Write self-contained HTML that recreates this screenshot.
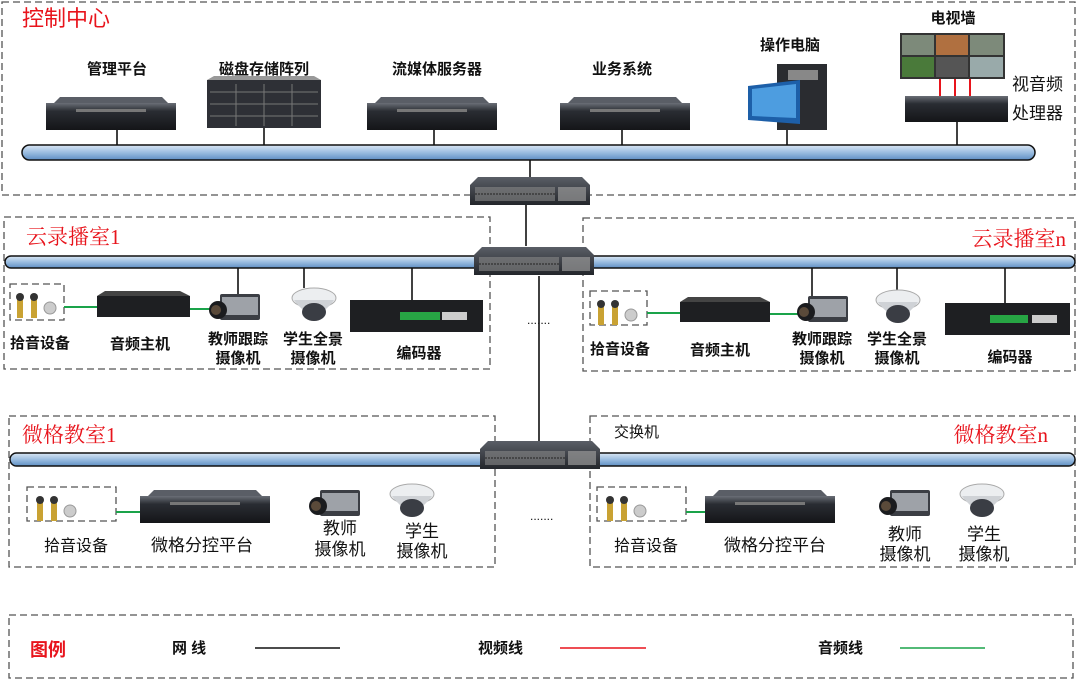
<!DOCTYPE html>
<html><head><meta charset="utf-8"><style>
html,body{margin:0;padding:0;background:#fff;}
svg{display:block;font-family:"Liberation Sans","Noto Sans CJK SC",sans-serif;}
.t{font-size:15px;font-weight:bold;fill:#111;}
.r{font-size:21px;fill:#e8141c;}
.d{fill:none;stroke:#555;stroke-width:1.3;stroke-dasharray:7 4;}
.ln{stroke:#111;stroke-width:1.6;}
</style></head><body>
<svg width="1078" height="681" viewBox="0 0 1078 681">
<defs>
<linearGradient id="pipe" x1="0" y1="0" x2="0" y2="1"><stop offset="0" stop-color="#dbe7f4"/><stop offset="0.5" stop-color="#9bbde0"/><stop offset="1" stop-color="#5f8fc4"/></linearGradient>
<linearGradient id="srv" x1="0" y1="0" x2="0" y2="1"><stop offset="0" stop-color="#6a6e76"/><stop offset="0.3" stop-color="#2a2d33"/><stop offset="1" stop-color="#141518"/></linearGradient>
<linearGradient id="sw" x1="0" y1="0" x2="0" y2="1"><stop offset="0" stop-color="#5a5e66"/><stop offset="1" stop-color="#23262b"/></linearGradient>
<g id="server"><rect x="0" y="6" width="130" height="27" fill="url(#srv)"/><polygon points="8,6 122,6 116,0 14,0" fill="#5a5e66"/><rect x="30" y="12" width="70" height="3" fill="#777"/></g>
<g id="switch"><polygon points="0,8 8,0 112,0 120,8 120,28 0,28" fill="url(#sw)"/><rect x="5" y="10" width="80" height="14" fill="#888" opacity=".6"/><line x1="5" y1="17" x2="85" y2="17" stroke="#222" stroke-width="1" stroke-dasharray="2 1"/><rect x="88" y="10" width="28" height="14" fill="#999" opacity=".7"/></g>
<g id="cam"><rect x="10" y="0" width="40" height="26" rx="2" fill="#3b3e44"/><rect x="12" y="3" width="36" height="18" fill="#9ea2a8"/><circle cx="8" cy="16" r="9" fill="#1b1c1f"/><circle cx="6" cy="16" r="5" fill="#5a4a3a"/></g>
<g id="dome"><ellipse cx="22" cy="10" rx="22" ry="10" fill="#eceef0" stroke="#aaa"/><path d="M2 12 Q22 40 42 12Z" fill="#cfd2d6"/><ellipse cx="22" cy="24" rx="12" ry="9" fill="#3a3d44"/></g>
<g id="mics"><rect x="0" y="6" width="6" height="20" fill="#c9a233"/><circle cx="3" cy="5" r="4" fill="#333"/><rect x="14" y="6" width="6" height="20" fill="#c9a233"/><circle cx="17" cy="5" r="4" fill="#333"/><circle cx="33" cy="16" r="6" fill="#ccc" stroke="#999"/></g>
</defs>

<!-- dashed boxes -->
<rect class="d" x="2" y="2" width="1073" height="193"/>
<rect class="d" x="4" y="217" width="486" height="152"/>
<rect class="d" x="583" y="218" width="492" height="153"/>
<rect class="d" x="9" y="416" width="486" height="151"/>
<rect class="d" x="590" y="416" width="485" height="151"/>
<rect class="d" x="9" y="615" width="1064" height="63"/>

<!-- titles -->
<text class="r" x="22" y="26" style="font-size:22px">控制中心</text>
<text class="r" x="26" y="244" style="font-family:'Liberation Serif','Noto Serif CJK SC',serif">云录播室1</text>
<text class="r" x="1066" y="246" text-anchor="end" style="font-family:'Liberation Serif','Noto Serif CJK SC',serif">云录播室n</text>
<text class="r" x="22" y="442" style="font-family:'Liberation Serif','Noto Serif CJK SC',serif">微格教室1</text>
<text class="r" x="1048" y="442" text-anchor="end" style="font-family:'Liberation Serif','Noto Serif CJK SC',serif">微格教室n</text>

<!-- control center -->
<g class="ln"><line x1="117" y1="130" x2="117" y2="146"/><line x1="264" y1="128" x2="264" y2="146"/><line x1="434" y1="130" x2="434" y2="146"/><line x1="622" y1="130" x2="622" y2="146"/><line x1="787" y1="128" x2="787" y2="146"/><line x1="957" y1="122" x2="957" y2="146"/>
<line x1="530" y1="160" x2="530" y2="178"/><line x1="526" y1="205" x2="526" y2="246"/><line x1="539" y1="276" x2="539" y2="441"/></g>
<rect x="22" y="145" width="1013" height="15" rx="7.5" fill="url(#pipe)" stroke="#111" stroke-width="1.5"/>
<text class="t" x="117" y="74" text-anchor="middle">管理平台</text>
<text class="t" x="264" y="74" text-anchor="middle">磁盘存储阵列</text>
<text class="t" x="437" y="74" text-anchor="middle">流媒体服务器</text>
<text class="t" x="622" y="74" text-anchor="middle">业务系统</text>
<text class="t" x="790" y="50" text-anchor="middle">操作电脑</text>
<text class="t" x="953" y="23" text-anchor="middle">电视墙</text>
<text x="1012" y="90" style="font-size:17px" fill="#111">视音频</text>
<text x="1012" y="119" style="font-size:17px" fill="#111">处理器</text>
<use href="#server" x="46" y="97"/>
<rect x="207" y="80" width="114" height="48" fill="#2e3036"/><polygon points="207,80 321,80 314,76 214,76" fill="#999"/>
<g stroke="#777" stroke-width="1"><line x1="210" y1="92" x2="318" y2="92"/><line x1="210" y1="104" x2="318" y2="104"/><line x1="210" y1="116" x2="318" y2="116"/><line x1="236" y1="84" x2="236" y2="126"/><line x1="264" y1="84" x2="264" y2="126"/><line x1="292" y1="84" x2="292" y2="126"/></g>
<use href="#server" x="367" y="97"/>
<use href="#server" x="560" y="97"/>
<rect x="777" y="64" width="50" height="66" fill="#2a2c30"/><rect x="788" y="70" width="30" height="10" fill="#888"/>
<polygon points="748,86 800,80 800,124 748,120" fill="#1d5fa8"/><polygon points="752,89 796,84 796,118 752,116" fill="#4d9de0"/>
<rect x="900" y="33" width="105" height="46" fill="#333"/>
<g fill="#7d8a7a"><rect x="902" y="35" width="32" height="20"/><rect x="936" y="35" width="32" height="20" fill="#b07040"/><rect x="970" y="35" width="33" height="20"/><rect x="902" y="57" width="32" height="20" fill="#4a7a3a"/><rect x="936" y="57" width="32" height="20" fill="#555"/><rect x="970" y="57" width="33" height="20" fill="#9aa"/></g>
<g stroke="#e8141c" stroke-width="2"><line x1="940" y1="79" x2="940" y2="96"/><line x1="955" y1="79" x2="955" y2="96"/><line x1="970" y1="79" x2="970" y2="96"/></g>
<rect x="905" y="96" width="103" height="26" fill="url(#srv)"/>

<!-- cloud buses -->
<rect x="5" y="256" width="1070" height="12" rx="6" fill="url(#pipe)" stroke="#111" stroke-width="1.5"/>
<use href="#switch" x="470" y="177"/>
<use href="#switch" x="474" y="247"/>
<text x="527" y="324" style="font-size:12px" fill="#111">.......</text>
<text x="530" y="520" style="font-size:12px" fill="#111">.......</text>

<!-- cloud 1 -->
<g class="ln"><line x1="238" y1="268" x2="238" y2="294"/><line x1="304" y1="268" x2="304" y2="288"/><line x1="412" y1="268" x2="412" y2="300"/></g>
<rect class="d" x="10" y="284" width="54" height="36"/>
<use href="#mics" x="17" y="292"/>
<g stroke="#1aa34a" stroke-width="2"><line x1="64" y1="307" x2="100" y2="307"/><line x1="188" y1="309" x2="215" y2="309"/></g>
<rect x="97" y="296" width="93" height="21" fill="#1e1f22"/><polygon points="97,296 190,296 180,291 105,291" fill="#444"/>
<use href="#cam" x="210" y="294"/>
<use href="#dome" x="292" y="288"/>
<rect x="350" y="300" width="133" height="32" fill="#1e1f22"/><rect x="400" y="312" width="40" height="8" fill="#27a544"/><rect x="442" y="312" width="25" height="8" fill="#ccc"/>
<text class="t" x="10" y="348">拾音设备</text>
<text class="t" x="140" y="349" text-anchor="middle">音频主机</text>
<text class="t" x="238" y="344" text-anchor="middle">教师跟踪</text>
<text class="t" x="238" y="363" text-anchor="middle">摄像机</text>
<text class="t" x="313" y="344" text-anchor="middle">学生全景</text>
<text class="t" x="313" y="363" text-anchor="middle">摄像机</text>
<text class="t" x="419" y="358" text-anchor="middle">编码器</text>

<!-- cloud n -->
<g class="ln"><line x1="812" y1="268" x2="812" y2="296"/><line x1="897" y1="268" x2="897" y2="290"/><line x1="1005" y1="268" x2="1005" y2="303"/></g>
<rect class="d" x="590" y="291" width="57" height="34"/>
<use href="#mics" x="598" y="299"/>
<g stroke="#1aa34a" stroke-width="2"><line x1="647" y1="313" x2="682" y2="313"/><line x1="768" y1="314" x2="800" y2="314"/></g>
<rect x="680" y="302" width="90" height="20" fill="#1e1f22"/><polygon points="680,302 770,302 760,297 688,297" fill="#444"/>
<use href="#cam" x="798" y="296"/>
<use href="#dome" x="876" y="290"/>
<rect x="945" y="303" width="125" height="32" fill="#1e1f22"/><rect x="990" y="315" width="38" height="8" fill="#27a544"/><rect x="1032" y="315" width="25" height="8" fill="#ccc"/>
<text class="t" x="590" y="354">拾音设备</text>
<text class="t" x="720" y="355" text-anchor="middle">音频主机</text>
<text class="t" x="822" y="344" text-anchor="middle">教师跟踪</text>
<text class="t" x="822" y="363" text-anchor="middle">摄像机</text>
<text class="t" x="897" y="344" text-anchor="middle">学生全景</text>
<text class="t" x="897" y="363" text-anchor="middle">摄像机</text>
<text class="t" x="1010" y="362" text-anchor="middle">编码器</text>

<!-- micro bus -->
<rect x="10" y="453" width="1065" height="13" rx="6.5" fill="url(#pipe)" stroke="#111" stroke-width="1.5"/>
<use href="#switch" x="480" y="441"/>
<text x="614" y="437" style="font-size:15px" fill="#111">交换机</text>

<!-- micro 1 -->
<rect class="d" x="27" y="487" width="89" height="34"/>
<use href="#mics" x="37" y="495"/>
<line x1="116" y1="512" x2="142" y2="512" stroke="#1aa34a" stroke-width="2"/>
<use href="#server" x="140" y="490"/>
<use href="#cam" x="310" y="490"/>
<use href="#dome" x="390" y="484"/>
<text x="44" y="551" style="font-size:16px" fill="#111">拾音设备</text>
<text x="202" y="551" text-anchor="middle" style="font-size:17px" fill="#111">微格分控平台</text>
<text x="340" y="534" text-anchor="middle" style="font-size:17px" fill="#111">教师</text>
<text x="340" y="555" text-anchor="middle" style="font-size:17px" fill="#111">摄像机</text>
<text x="422" y="537" text-anchor="middle" style="font-size:17px" fill="#111">学生</text>
<text x="422" y="557" text-anchor="middle" style="font-size:17px" fill="#111">摄像机</text>

<!-- micro n -->
<rect class="d" x="597" y="487" width="89" height="34"/>
<use href="#mics" x="607" y="495"/>
<line x1="686" y1="512" x2="707" y2="512" stroke="#1aa34a" stroke-width="2"/>
<use href="#server" x="705" y="490"/>
<use href="#cam" x="880" y="490"/>
<use href="#dome" x="960" y="484"/>
<text x="614" y="551" style="font-size:16px" fill="#111">拾音设备</text>
<text x="775" y="551" text-anchor="middle" style="font-size:17px" fill="#111">微格分控平台</text>
<text x="905" y="540" text-anchor="middle" style="font-size:17px" fill="#111">教师</text>
<text x="905" y="560" text-anchor="middle" style="font-size:17px" fill="#111">摄像机</text>
<text x="984" y="540" text-anchor="middle" style="font-size:17px" fill="#111">学生</text>
<text x="984" y="560" text-anchor="middle" style="font-size:17px" fill="#111">摄像机</text>

<!-- legend -->
<text x="30" y="656" style="font-size:18px;font-weight:bold" fill="#e8141c">图例</text>
<text class="t" x="172" y="653">网 线</text>
<line x1="255" y1="648" x2="340" y2="648" stroke="#111" stroke-width="1.6"/>
<text class="t" x="478" y="653">视频线</text>
<line x1="560" y1="648" x2="646" y2="648" stroke="#e8141c" stroke-width="1.6"/>
<text class="t" x="818" y="653">音频线</text>
<line x1="900" y1="648" x2="985" y2="648" stroke="#1aa34a" stroke-width="1.6"/>
</svg>
</body></html>
